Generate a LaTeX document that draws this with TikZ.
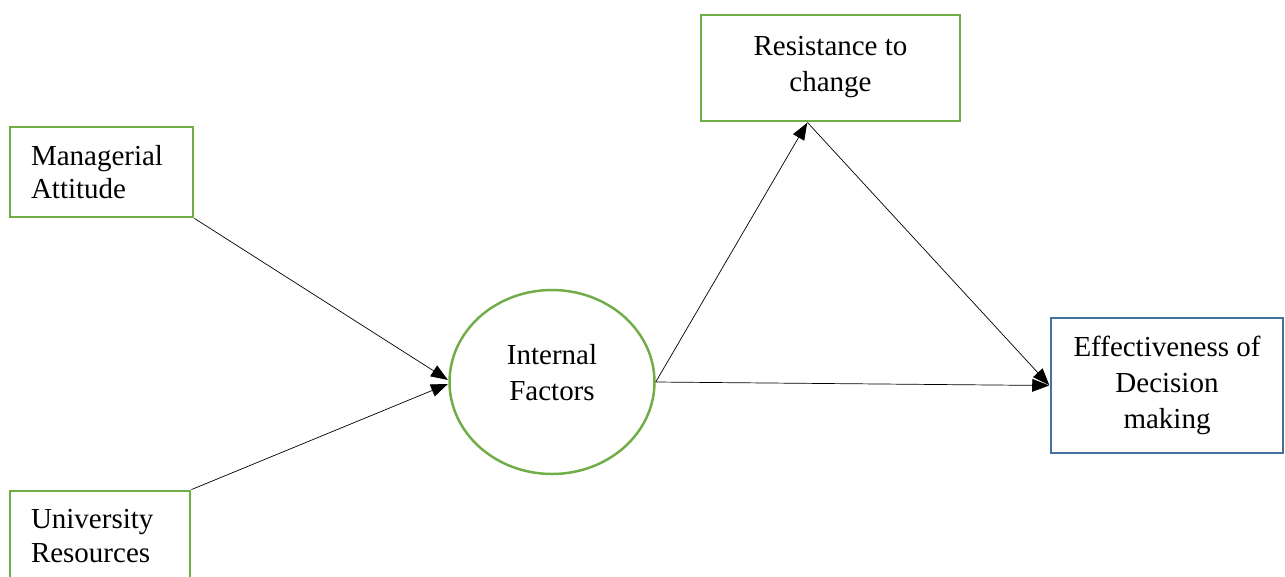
\documentclass[tikz,border=0pt]{standalone}
\usepackage{fontspec}
\setmainfont{Liberation Serif}
\usetikzlibrary{arrows.meta, positioning, shapes.geometric}
\definecolor{grn}{RGB}{112,173,71}
\definecolor{blu}{RGB}{65,113,156}

\begin{document}
\begin{tikzpicture}[x=0.02cm, y=-0.02cm]
	\tikzset{->, >={Triangle[length=10pt, width=7.5pt]}, line width=0.6pt,
		every node/.style={font=\fontsize{16.5}{19}\selectfont},
		wide/.style={font=\fontsize{16.5}{20.5}\selectfont},
		gbox/.style={rectangle, draw=grn, line width=1.6pt, minimum height=1.8cm, inner xsep=0.42cm, align=left},
		bbox/.style={rectangle, draw=blu, line width=1.6pt, align=center}}

	\clip (0,0) rectangle (1285,576);

	\node[gbox, text width=2.82cm] (ma) at (101.5,172) {Managerial\\Attitude};
	\node[gbox, text width=2.76cm] (ur) at (100,536) {University\\Resources};
	\node[ellipse, draw=grn, line width=1.4pt, minimum width=4.1cm, minimum height=3.68cm, align=center, wide, text depth=0.4cm] (if) at (552,382) {Internal\\Factors};
	\node[gbox, wide, align=center, minimum width=5.18cm, minimum height=2.12cm, text depth=0.16cm] (rc) at (830.5,68) {Resistance to\\change};
	\node[bbox, wide, minimum width=4.64cm, minimum height=2.7cm] (ed) at (1167,385.5) {Effectiveness of\\Decision\\making};

	\draw (ma.south east) -- (if.179);
	\draw (ur.north east) -- (if.181);
	\draw (if.east) -- (rc.247);
	\draw (rc.247) -- (ed.west);
	\draw (if.east) -- (ed.west);
\end{tikzpicture}
\end{document}
